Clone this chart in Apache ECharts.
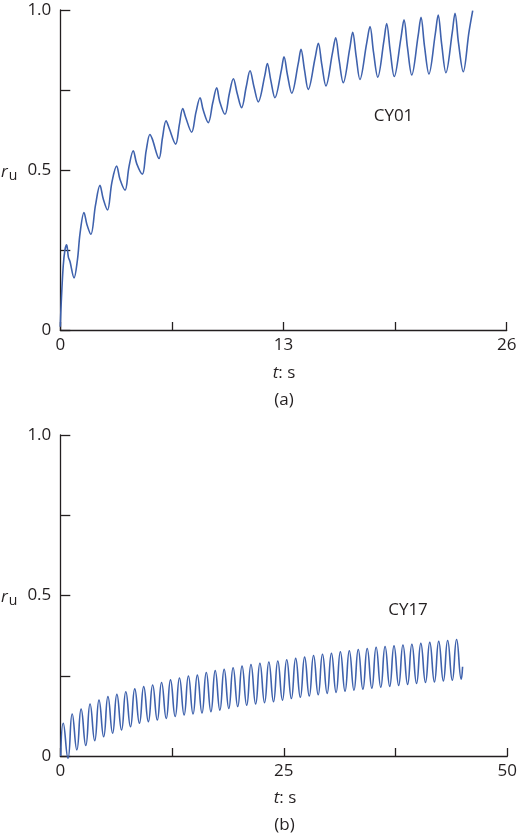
<!DOCTYPE html>
<html>
<head>
<meta charset="utf-8">
<script src="https://cdn.jsdelivr.net/npm/echarts@6/dist/echarts.min.js"></script>
<style>
  html, body { margin: 0; padding: 0; background: #fff; }
  #chart { width: 520px; height: 836px; }
</style>
</head>
<body>
<div id="chart"></div>
<script>
// pore pressure ratio r_u against time: [t (s), r_u]
const cy01 = [
  [0.00, 0.01], [0.05, 0.08], [0.17, 0.20], [0.27, 0.25], [0.37, 0.266], [0.47, 0.228], [0.56, 0.215], [0.80, 0.163],
  [1.00, 0.22], [1.15, 0.302], [1.38, 0.367], [1.55, 0.33], [1.78, 0.299],
  [2.05, 0.39], [2.31, 0.452], [2.50, 0.41], [2.75, 0.375],
  [3.00, 0.46], [3.28, 0.512], [3.48, 0.47], [3.77, 0.437],
  [4.00, 0.51], [4.25, 0.560], [4.45, 0.52], [4.78, 0.487],
  [5.00, 0.56], [5.22, 0.611], [5.35, 0.598], [5.75, 0.536],
  [5.95, 0.60], [6.16, 0.654], [6.33, 0.632], [6.72, 0.581],
  [6.93, 0.64], [7.13, 0.692], [7.30, 0.665], [7.65, 0.618],
  [7.90, 0.68], [8.14, 0.726], [8.32, 0.688], [8.62, 0.648],
  [8.88, 0.71], [9.11, 0.757], [9.28, 0.715], [9.59, 0.674],
  [9.85, 0.74], [10.08, 0.785], [10.30, 0.74], [10.56, 0.695],
  [10.83, 0.76], [11.05, 0.810], [11.28, 0.76], [11.53, 0.713],
  [11.91, 0.795], [12.06, 0.833], [12.26, 0.78], [12.50, 0.726],
  [12.88, 0.813], [13.03, 0.854], [13.23, 0.797], [13.48, 0.740],
  [13.86, 0.833], [14.02, 0.877], [14.22, 0.814], [14.44, 0.752],
  [14.84, 0.850], [15.03, 0.896], [15.23, 0.830], [15.47, 0.763],
  [15.85, 0.865], [16.04, 0.913], [16.24, 0.843], [16.48, 0.773],
  [16.86, 0.880], [17.03, 0.930], [17.23, 0.856], [17.45, 0.783],
  [17.84, 0.895], [18.04, 0.948], [18.24, 0.869], [18.49, 0.790],
  [18.85, 0.904], [19.01, 0.958], [19.21, 0.875], [19.45, 0.792],
  [19.84, 0.912], [20.02, 0.969], [20.22, 0.883], [20.47, 0.797],
  [20.84, 0.919], [21.01, 0.977], [21.21, 0.888], [21.47, 0.800],
  [21.84, 0.925], [22.01, 0.984], [22.21, 0.894], [22.46, 0.804],
  [22.83, 0.930], [22.99, 0.990], [23.19, 0.898], [23.47, 0.807],
  [23.80, 0.930], [24.02, 0.998]
];

const cy17 = [
  [0.05, 0.0], [0.33, 0.102], [0.86, -0.007], [1.33, 0.131], [1.85, 0.019], [2.33, 0.146], [2.85, 0.033],
  [3.33, 0.162], [3.85, 0.048], [4.33, 0.174], [4.85, 0.060], [5.33, 0.185], [5.85, 0.071],
  [6.33, 0.192], [6.85, 0.081], [7.33, 0.200], [7.85, 0.091], [8.33, 0.209], [8.85, 0.102],
  [9.33, 0.216], [9.85, 0.107], [10.33, 0.221], [10.85, 0.112], [11.33, 0.229], [11.85, 0.117],
  [12.33, 0.237], [12.85, 0.123], [13.33, 0.243], [13.85, 0.128], [14.33, 0.249], [14.85, 0.131],
  [15.33, 0.252], [15.85, 0.134], [16.33, 0.260], [16.85, 0.138], [17.33, 0.266], [17.85, 0.143],
  [18.33, 0.270], [18.85, 0.148], [19.33, 0.275], [19.85, 0.154], [20.33, 0.280], [20.85, 0.158],
  [21.33, 0.285], [21.85, 0.162], [22.33, 0.289], [22.85, 0.166], [23.33, 0.293], [23.85, 0.169],
  [24.33, 0.296], [24.85, 0.174], [25.33, 0.300], [25.85, 0.179], [26.33, 0.304], [26.85, 0.183],
  [27.33, 0.308], [27.85, 0.187], [28.33, 0.313], [28.85, 0.191], [29.33, 0.317], [29.85, 0.195],
  [30.33, 0.320], [30.85, 0.198], [31.33, 0.325], [31.85, 0.202], [32.33, 0.328], [32.85, 0.205],
  [33.33, 0.332], [33.85, 0.208], [34.33, 0.335], [34.85, 0.211], [35.33, 0.339], [35.85, 0.214],
  [36.33, 0.341], [36.85, 0.217], [37.33, 0.343], [37.85, 0.220], [38.33, 0.346], [38.85, 0.223],
  [39.33, 0.348], [39.85, 0.226], [40.33, 0.351], [40.85, 0.229], [41.33, 0.354], [41.85, 0.231],
  [42.33, 0.357], [42.85, 0.234], [43.33, 0.360], [43.85, 0.236], [44.33, 0.363], [44.85, 0.239],
  [45.00, 0.278]
];

// axis ranges and the ticks that carry a label
const xTicksA = [0, 13, 26];
const xTicksB = [0, 25, 50];
const yTicks = [0, 0.5, 1.0];
const yTickText = ['0', '0.5', '1.0'];

const INK = '#231f20';
const LINE = '#3f62ad';
const FONT = '"Open Sans", "Noto Sans", sans-serif';

function labelOnly(list, text) {
  return function (v) {
    for (let i = 0; i < list.length; i++) {
      if (Math.abs(v - list[i]) < 1e-9) return text ? text[i] : String(list[i]);
    }
    return '';
  };
}

function xAxisFor(idx, ticks) {
  return {
    type: 'value', gridIndex: idx,
    min: ticks[0], max: ticks[ticks.length - 1], interval: (ticks[1] - ticks[0]) / 2,
    axisLine: { lineStyle: { color: INK, width: 1.3 } },
    axisTick: { inside: true, length: 8, lineStyle: { color: INK, width: 1.3 } },
    axisLabel: { formatter: labelOnly(ticks), color: INK, fontSize: 17, fontFamily: FONT, margin: 7,
                 showMinLabel: true, showMaxLabel: true },
    splitLine: { show: false }
  };
}

function yAxisFor(idx) {
  return {
    type: 'value', gridIndex: idx, min: 0, max: 1, interval: 0.25,
    axisLine: { show: true, lineStyle: { color: INK, width: 1.3 } },
    axisTick: { show: true, inside: true, length: 10, lineStyle: { color: INK, width: 1.3 } },
    axisLabel: { formatter: labelOnly(yTicks, yTickText), color: INK, fontSize: 17, fontFamily: FONT, margin: 9,
                 showMinLabel: true, showMaxLabel: true },
    splitLine: { show: false }
  };
}

function text(x, y, str) {
  return {
    type: 'text', x: x, y: y,
    style: { text: str, fill: INK, font: '17px ' + FONT, align: 'center', verticalAlign: 'middle' }
  };
}

function ruLabel(y) {
  return {
    type: 'text', x: 1, y: y,
    style: {
      text: '{r|r}{u|u}', align: 'left', verticalAlign: 'middle',
      rich: {
        r: { fontStyle: 'italic', fontSize: 17, fontFamily: FONT, fill: INK, color: INK },
        u: { fontSize: 14, fontFamily: FONT, fill: INK, color: INK, padding: [8, 0, 0, 1] }
      }
    }
  };
}

function tsLabel(x, y) {
  return {
    type: 'text', x: x, y: y,
    style: {
      text: '{t|t}{s|: s}', align: 'center', verticalAlign: 'middle',
      rich: {
        t: { fontStyle: 'italic', fontSize: 17, fontFamily: FONT, fill: INK, color: INK },
        s: { fontSize: 17, fontFamily: FONT, fill: INK, color: INK }
      }
    }
  };
}

const chart = echarts.init(document.getElementById('chart'), null, { renderer: 'canvas' });

chart.setOption({
  backgroundColor: '#fff',
  animation: false,
  grid: [
    { left: 60.3, right: 13.3, top: 10, height: 320 },
    { left: 60.3, right: 10.7, top: 435, height: 321 }
  ],
  xAxis: [xAxisFor(0, xTicksA), xAxisFor(1, xTicksB)],
  yAxis: [yAxisFor(0), yAxisFor(1)],
  series: [
    {
      type: 'line', xAxisIndex: 0, yAxisIndex: 0, data: cy01,
      showSymbol: false, smooth: 0.35, clip: false,
      lineStyle: { color: LINE, width: 1.6 }
    },
    {
      type: 'line', xAxisIndex: 1, yAxisIndex: 1, data: cy17,
      showSymbol: false, smooth: 0.5, clip: false,
      lineStyle: { color: LINE, width: 1.6 }
    }
  ],
  graphic: [
    ruLabel(172),
    tsLabel(284, 373),
    text(284, 400, '(a)'),
    text(393.5, 116, 'CY01'),
    ruLabel(597),
    tsLabel(285, 798),
    text(284.5, 825, '(b)'),
    text(408, 610, 'CY17')
  ]
});
</script>
</body>
</html>
